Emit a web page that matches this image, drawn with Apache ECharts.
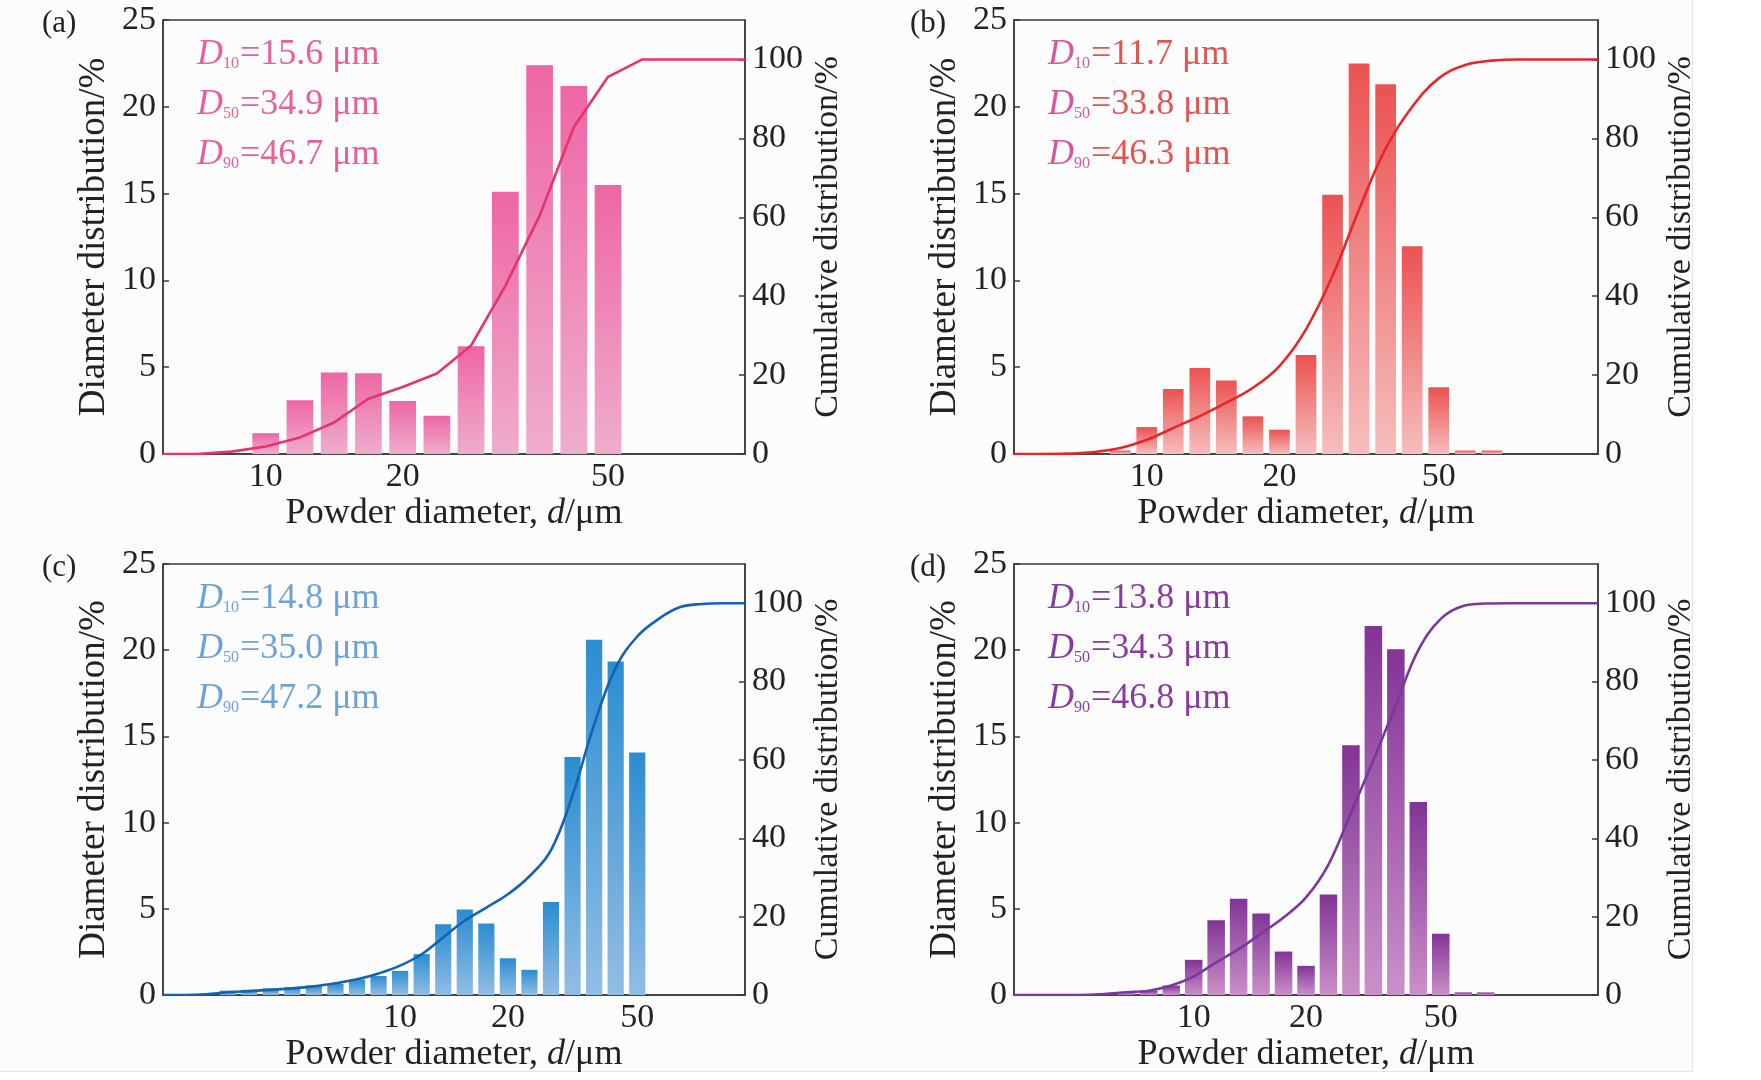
<!DOCTYPE html>
<html>
<head>
<meta charset="utf-8">
<title>Powder size distribution</title>
<script src="https://cdn.jsdelivr.net/npm/echarts@6.0.0/dist/echarts.min.js"></script>
<style>
  html, body { margin: 0; padding: 0; background: #ffffff; }
  #paper { position: absolute; left: 0; top: 0; width: 1692px; height: 1071px;
           background: #fcfcfc; border-right: 1px solid #e6e6e6; border-bottom: 1px solid #e6e6e6; }
  #chart { position: absolute; left: 0; top: 0; width: 1761px; height: 1080px; }
</style>
</head>
<body>
<div id="paper"></div>
<div id="chart"></div>
<script>
// ---- data ----
// only these bin labels are printed on the x axes
var xTicks = ['10', '20', '50'];

// (a) bins, diameter distribution %, cumulative %
var sizesA = ['5.9','7.1','8.4','10','11.9','14.1','16.8','20','23.3','27.1','31.6','36.8','42.9','50','58.3','68.0','79.3','92.4'];
var barsA  = [0, 0, 0, 1.2, 3.1, 4.7, 4.65, 3.05, 2.2, 6.2, 15.1, 22.4, 21.2, 15.5, 0, 0, 0, 0];
var cumA   = [0, 0, 0.6, 1.9, 4.2, 8.0, 14.0, 17.0, 20.4, 27.5, 42.6, 60.4, 82.9, 95.6, 100, 100, 100, 100];

// (b)
var sizesB = ['5.0','5.7','6.6','7.6','8.7','10','11.5','13.2','15.2','17.4','20','23.3','27.1','31.6','36.8','42.9','50','58.3','68.0','79.3','92.4','108','125'];
var barsB  = [0, 0, 0, 0, 0.2, 1.55, 3.74, 4.95, 4.24, 2.17, 1.4, 5.7, 14.93, 22.5, 21.3, 11.96, 3.84, 0.2, 0.2, 0, 0, 0, 0];
var cumB   = [0, 0, 0.1, 0.5, 1.5, 3.6, 6.6, 9.6, 13.0, 16.8, 22.3, 31.6, 45.2, 62.0, 77.4, 88.0, 95.2, 98.6, 99.7, 100, 100, 100, 100];

// (c)
var sizesC = ['2.2','2.5','2.9','3.3','3.8','4.4','5.0','5.7','6.6','7.6','8.7','10','11.5','13.2','15.2','17.4','20','23.3','27.1','31.6','36.8','42.9','50','58.3','68.0','79.3','92.4','108'];
var barsC  = [0, 0, 0, 0.25, 0.3, 0.38, 0.45, 0.55, 0.65, 0.9, 1.1, 1.4, 2.37, 4.1, 4.96, 4.15, 2.13, 1.46, 5.4, 13.8, 20.6, 19.35, 14.06, 0, 0, 0, 0, 0];
var cumC   = [0, 0, 0.2, 0.7, 1.0, 1.3, 1.7, 2.2, 3.0, 4.0, 5.5, 7.5, 10.4, 14.7, 19.0, 22.3, 25.7, 30.3, 37.0, 51.0, 69.0, 83.5, 91.5, 96.0, 99.0, 99.8, 100, 100];

// (d)
var sizesD = ['3.3','3.8','4.4','5.0','5.7','6.6','7.6','8.7','10','11.5','13.2','15.2','17.4','20','23.3','27.1','31.6','36.8','42.9','50','58.3','68.0','79.3','92.4','108','125','146'];
var barsD  = [0, 0, 0, 0, 0, 0.1, 0.25, 0.55, 2.04, 4.33, 5.58, 4.73, 2.52, 1.69, 5.83, 14.48, 21.4, 20.06, 11.19, 3.56, 0.15, 0.15, 0, 0, 0, 0, 0];
var cumD   = [0, 0, 0, 0, 0.25, 0.7, 1.1, 2.4, 4.75, 8.3, 11.7, 15.7, 19.8, 24.9, 33.3, 46.5, 60.0, 74.0, 88.0, 96.0, 99.3, 99.9, 100, 100, 100, 100, 100];

// D10 / D50 / D90 in μm
var dValsA = ['15.6', '34.9', '46.7'];
var dValsB = ['11.7', '33.8', '46.3'];
var dValsC = ['14.8', '35.0', '47.2'];
var dValsD = ['13.8', '34.3', '46.8'];

var panelNames = ['(a)', '(b)', '(c)', '(d)'];

// ---- layout / style ----
var FONT = '"Liberation Serif", "Times New Roman", serif';
var AXIS = '#3a3a3a';
var INK = '#222222';

var panels = [
  { sizes: sizesA, bars: barsA, cum: cumA, d: dValsA, smooth: false,
    box: { left: 163, top: 20, width: 582, height: 434 },
    barTop: '#ee66a5', barBottom: '#eeadcd', line: '#e6336f', text: '#ea5f97', dCol: '#ea5f97', barW: '78%' },
  { sizes: sizesB, bars: barsB, cum: cumB, d: dValsB, smooth: 0.4,
    box: { left: 1014, top: 20, width: 584, height: 434 },
    barTop: '#ec5252', barBottom: '#f6bdbd', line: '#e8262a', text: '#e25552', dCol: '#d9579e', barW: '78%' },
  { sizes: sizesC, bars: barsC, cum: cumC, d: dValsC, smooth: 0.4,
    box: { left: 163, top: 564, width: 582, height: 431 },
    barTop: '#2a8dd2', barBottom: '#92bde4', line: '#1462b2', text: '#6ea3d6', dCol: '#6ea3d6', barW: '75%' },
  { sizes: sizesD, bars: barsD, cum: cumD, d: dValsD, smooth: 0.4,
    box: { left: 1014, top: 564, width: 584, height: 431 },
    barTop: '#823497', barBottom: '#cb90c8', line: '#7a389c', text: '#8a3c9e', dCol: '#8a3c9e', barW: '78%' }
];

var chart = echarts.init(document.getElementById('chart'));

var option = {
  backgroundColor: 'transparent',
  animation: false,
  grid: [], xAxis: [], yAxis: [], series: [], title: []
};

function tickLabel() {
  return { fontFamily: FONT, fontSize: 34, color: INK, hideOverlap: false };
}

panels.forEach(function (p, i) {
  var b = p.box;
  option.grid.push({
    left: b.left, top: b.top, width: b.width, height: b.height,
    show: true, borderColor: AXIS, borderWidth: 1.5, backgroundColor: 'transparent',
    containLabel: false, outerBoundsMode: 'none'
  });

  var xl = tickLabel();
  xl.interval = 0;
  xl.margin = 6;
  xl.formatter = function (v) { return xTicks.indexOf(v) >= 0 ? v : ''; };
  option.xAxis.push({
    type: 'category', gridIndex: i, data: p.sizes, boundaryGap: false,
    axisLine: { lineStyle: { color: AXIS, width: 1.5 } },
    axisTick: { show: false },
    axisLabel: xl,
    splitLine: { show: false },
    name: '{n|Powder diameter, }{i|d}{n|/μm}',
    nameLocation: 'middle', nameGap: 42,
    nameTextStyle: {
      rich: {
        n: { fontFamily: FONT, fontSize: 36, color: INK },
        i: { fontFamily: FONT, fontSize: 36, fontStyle: 'italic', color: INK }
      }
    }
  });

  var ll = tickLabel();
  ll.margin = 7;
  option.yAxis.push({
    type: 'value', gridIndex: i, position: 'left', min: 0, max: 25, interval: 5,
    axisLine: { show: true, lineStyle: { color: AXIS, width: 1.5 } },
    axisTick: { show: true, inside: true, length: 6, lineStyle: { color: AXIS, width: 1.5 } },
    axisLabel: ll,
    splitLine: { show: false },
    name: 'Diameter distribution/%', nameLocation: 'middle', nameRotate: 90, nameGap: 50,
    nameTextStyle: { fontFamily: FONT, fontSize: 37, color: INK }
  });

  var rl = tickLabel();
  rl.margin = 7;
  rl.showMaxLabel = false;
  rl.formatter = function (v) { return v > 100 ? '' : String(v); };
  option.yAxis.push({
    type: 'value', gridIndex: i, position: 'right', min: 0, max: 110, interval: 20,
    axisLine: { show: true, lineStyle: { color: AXIS, width: 1.5 } },
    axisTick: { show: true, inside: true, length: 6, lineStyle: { color: AXIS, width: 1.5 } },
    axisLabel: rl,
    splitLine: { show: false },
    name: 'Cumulative distribution/%', nameLocation: 'middle', nameRotate: 90, nameGap: 66,
    nameTextStyle: { fontFamily: FONT, fontSize: 34, color: INK }
  });

  option.series.push({
    type: 'bar', xAxisIndex: i, yAxisIndex: 2 * i, data: p.bars, barWidth: p.barW,
    itemStyle: {
      color: new echarts.graphic.LinearGradient(0, 0, 0, 1, [
        { offset: 0, color: p.barTop },
        { offset: 1, color: p.barBottom }
      ])
    },
    emphasis: { disabled: true }
  });
  option.series.push({
    type: 'line', xAxisIndex: i, yAxisIndex: 2 * i + 1, data: p.cum,
    smooth: p.smooth, showSymbol: false, symbol: 'none',
    lineStyle: { color: p.line, width: 2.6 },
    z: 5, emphasis: { disabled: true }
  });

  // D10 / D50 / D90 block
  var lines = ['10', '50', '90'].map(function (s, k) {
    return '{D|D}{s|' + s + '}{t|=' + p.d[k] + ' μm}';
  });
  option.title.push({
    text: lines.join('\n'),
    left: b.left + 34, top: b.top + 10, padding: 0,
    textStyle: {
      fontWeight: 'normal',
      rich: {
        D: { fontFamily: FONT, fontSize: 36, fontStyle: 'italic', fontWeight: 'normal', color: p.dCol, lineHeight: 50 },
        s: { fontFamily: FONT, fontSize: 16, fontWeight: 'normal', color: p.dCol, lineHeight: 32, verticalAlign: 'middle', padding: [18, 1, 0, 0] },
        t: { fontFamily: FONT, fontSize: 36, fontWeight: 'normal', color: p.text, lineHeight: 50 }
      }
    }
  });

  // panel letter
  option.title.push({
    text: panelNames[i],
    left: i % 2 === 0 ? 42 : 910, top: b.top - 12, padding: 0,
    textStyle: { fontFamily: FONT, fontSize: 31, fontWeight: 'normal', color: INK }
  });
});

chart.setOption(option);
</script>
</body>
</html>
